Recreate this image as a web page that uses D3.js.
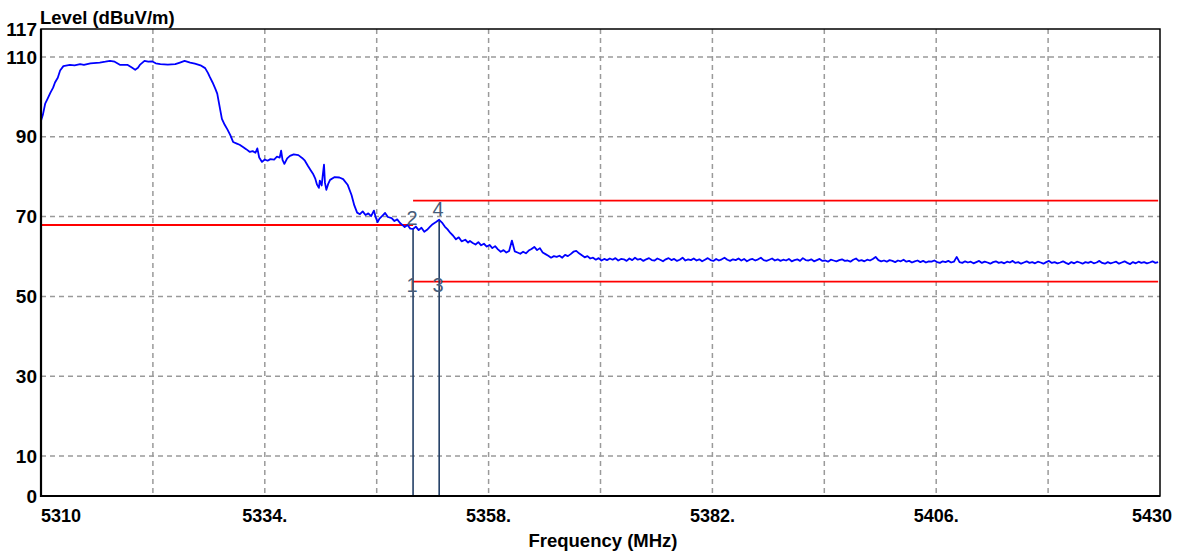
<!DOCTYPE html>
<html>
<head>
<meta charset="utf-8">
<script src="https://cdn.jsdelivr.net/npm/d3@7"></script>
<style>
  body { margin: 0; background: #fff; }
  text { font-family: Arial, "Liberation Sans", sans-serif; }
</style>
</head>
<body>
<svg class="chart" width="1177" height="555"></svg>
<script>
// axis ticks
const xTicks = [5310, 5322, 5334, 5346, 5358, 5370, 5382, 5394, 5406, 5418, 5430];
const xLabels = ["5310", "", "5334.", "", "5358.", "", "5382.", "", "5406.", "", "5430"];
const yTicks = [0, 10, 30, 50, 70, 90, 110, 117];
const yGrid = [10, 30, 50, 70, 90, 110];

// trace, first part (MHz / dBuV/m pairs)
const sweepFreq = [
  5310.0, 5310.2, 5310.45, 5310.7, 5311.0, 5311.3, 5311.5, 5311.8, 5312.05, 5312.4,
  5313.1, 5313.6, 5314.2, 5314.6, 5315.3, 5316.3, 5316.9, 5317.4, 5317.9, 5318.5,
  5319.3, 5319.7, 5320.1, 5320.4, 5320.6, 5321.1, 5321.5, 5321.9, 5322.3, 5322.8,
  5323.6, 5324.4, 5324.9, 5325.4, 5326.0, 5326.5, 5327.1, 5327.6, 5327.9, 5328.1,
  5328.4, 5328.7, 5328.9, 5329.2, 5329.4, 5329.7, 5330.0, 5330.3, 5330.6, 5331.0,
  5331.3, 5331.7, 5332.0, 5332.4, 5332.7, 5333.0, 5333.2, 5333.4, 5333.7, 5334.0,
  5334.3, 5334.6, 5335.0, 5335.3, 5335.6, 5335.75, 5335.9, 5336.1, 5336.4, 5336.7,
  5337.1, 5337.6, 5338.0, 5338.3, 5338.6, 5338.9, 5339.2, 5339.4, 5339.6, 5339.8,
  5339.9, 5340.1, 5340.2, 5340.35, 5340.45, 5340.6, 5340.8, 5341.0, 5341.5, 5342.0,
  5342.4, 5342.9, 5343.3, 5343.6, 5343.9, 5344.2, 5344.5, 5344.8, 5345.1, 5345.4,
  5345.7, 5345.9, 5346.1, 5346.3, 5346.6, 5346.9, 5347.2, 5347.6, 5347.9, 5348.2,
  5348.5, 5348.8, 5349.0, 5349.3, 5349.6, 5349.9, 5350.2, 5350.5, 5350.8, 5351.1,
  5351.4, 5351.7, 5352.0, 5352.4, 5352.7, 5353.0, 5353.3, 5353.6, 5353.9, 5354.2,
  5354.5, 5354.8, 5355.1, 5355.5, 5355.8, 5356.0
];
const sweepLevel = [
  94.0, 95.5, 98.3, 99.5, 101.0, 102.3, 103.6, 104.8, 106.6, 107.7,
  108.0, 107.9, 108.2, 108.0, 108.4, 108.6, 108.8, 109.0, 108.8, 108.0,
  108.0, 107.4, 106.8, 107.3, 108.0, 109.0, 108.8, 108.9, 108.4, 108.2,
  108.1, 108.2, 108.6, 109.0, 108.6, 108.3, 107.9, 107.2, 106.0, 105.0,
  103.6, 102.0, 100.8, 97.0, 94.5, 93.0, 91.8, 90.4, 88.7, 88.3,
  88.0, 87.4, 86.9, 86.2, 86.4, 86.0, 87.1, 84.8, 83.7, 84.3,
  84.0, 84.4, 84.3, 85.0, 84.8, 86.5, 84.2, 83.2, 84.6, 85.2,
  85.6, 85.4, 84.7, 84.0, 82.8, 81.7, 80.6, 79.6, 78.0, 77.2,
  79.0, 77.8, 80.0, 83.0, 78.5, 76.7, 78.2, 79.2, 79.9, 79.8,
  79.4, 77.9, 75.4, 72.8, 71.0, 70.6, 71.3, 70.4, 70.8, 70.1,
  71.5, 69.8, 68.6, 69.5, 70.2, 70.9, 69.9, 69.6, 68.9, 69.3,
  68.4, 67.8, 67.4, 67.9, 67.0, 66.9, 67.5, 66.6, 67.2, 66.2,
  66.7, 67.4, 68.1, 68.7, 69.2, 68.5, 67.5, 66.8, 65.9, 65.2,
  64.3, 64.8, 63.8, 64.2, 63.5, 63.9
];

// trace, flat part: one reading every 0.3 MHz from 5356.3 MHz
const tailStart = 5356.3;
const tailStep = 0.3;
const tailLevel = [
  63.4, 63.0, 63.6, 62.8, 63.2, 62.5, 62.9, 62.1, 62.6, 61.8,
  61.2, 61.6, 61.0, 61.4, 64.0, 61.3, 61.0, 60.7, 61.2, 60.8,
  61.5, 61.9, 62.4, 61.6, 62.1, 61.0, 60.6, 60.2, 59.7, 60.1,
  59.9, 60.2, 59.7, 60.4, 60.1, 60.6, 61.2, 61.4, 60.8, 60.3,
  59.8, 60.1, 59.5, 59.7, 59.2, 59.6, 59.0, 59.4, 59.1, 59.5,
  59.2, 59.6, 59.0, 59.4, 59.3, 58.9, 59.5, 59.1, 59.7, 59.2,
  59.4, 58.9, 59.3, 59.6, 59.1, 59.0, 59.5, 59.2, 58.8, 59.3,
  59.6, 59.1, 59.4, 58.9, 59.2, 59.7, 59.0, 59.3, 59.1, 59.5,
  59.0, 59.3, 58.8, 59.2, 59.6, 59.1, 58.9, 59.4, 59.0, 59.3,
  59.7, 59.2, 58.9, 59.3, 59.1, 59.5, 59.0, 59.4, 58.8, 59.2,
  59.4, 59.0, 59.3, 59.7, 59.1, 58.9, 59.2, 59.5, 59.0, 59.3,
  58.9, 59.2, 59.0, 59.4, 58.8, 59.1, 59.3, 58.9, 59.6, 59.1,
  59.0, 59.3, 58.8, 59.1, 59.4, 58.9, 59.0, 58.7, 59.2, 59.0,
  58.8, 59.1, 59.3, 58.9, 59.0, 58.7, 59.2, 59.5, 58.9, 59.1,
  58.8, 59.2, 59.0, 59.4, 59.9, 59.1, 58.8, 59.0, 58.7, 59.1,
  58.9, 58.6, 59.0, 58.8, 59.2, 58.7, 58.9, 58.5, 58.8, 59.0,
  58.6, 58.9, 58.5, 58.8, 58.7, 59.0, 58.6, 58.4, 58.8, 58.6,
  58.9, 58.5, 58.7, 59.9, 58.6, 58.4, 58.8, 58.5, 58.7, 58.3,
  58.6, 58.9, 58.4, 58.7, 58.5, 58.2, 58.6, 58.8, 58.4, 58.6,
  58.3, 58.7, 58.5, 58.9, 58.4, 58.6, 58.2, 58.5, 58.8, 58.4,
  58.6, 58.3, 58.7, 58.5, 58.2, 58.6, 58.9, 58.4, 58.6, 58.3,
  58.5, 58.8, 58.4, 58.1, 58.6, 58.3, 58.7, 58.5, 58.2, 58.6,
  58.4, 58.7, 58.3, 58.5, 58.9, 58.4, 58.2, 58.6, 58.3, 58.5,
  58.7, 58.2, 58.5, 58.8, 58.4, 58.1, 58.6, 58.3, 58.7, 58.4,
  58.6, 58.3, 58.5, 58.8, 58.4, 58.6
];

// limit lines (red)
const limitLevel = [67.9, 74.0, 53.7];
const limitFrom = [5310, 5349.9, 5349.9];
const limitTo = [5349.9, 5429.8, 5429.8];

// markers
const markerIds = ["1", "2", "3", "4"];
const markerFreq = [5349.9, 5349.9, 5352.7, 5352.7];
const markerLevel = [53.7, 66.9, 53.7, 69.2];
const onTrace = [false, true, false, true];

const margin = { top: 29, right: 17, bottom: 59, left: 41 };
const width = 1177 - margin.left - margin.right;
const height = 555 - margin.top - margin.bottom;

const trace = sweepFreq
  .map((f, i) => ({ f: f, v: sweepLevel[i] }))
  .concat(tailLevel.map((v, i) => ({ f: tailStart + i * tailStep, v: v })));

const svg = d3.select(".chart");
const g = svg
  .append("g")
  .attr("transform", `translate(${margin.left},${margin.top})`);

const x = d3.scaleLinear().domain([5310, 5430]).range([0, width]);
const y = d3.scaleLinear().domain([0, 117]).range([height, 0]);

// dashed grid
g.selectAll(".vgrid")
  .data(xTicks.slice(1, -1))
  .join("line")
  .attr("x1", (d) => x(d))
  .attr("x2", (d) => x(d))
  .attr("y1", 0)
  .attr("y2", height)
  .attr("stroke", "#9a9a9a")
  .attr("stroke-width", 1.5)
  .attr("stroke-dasharray", "5,4");

g.selectAll(".hgrid")
  .data(yGrid)
  .join("line")
  .attr("x1", 0)
  .attr("x2", width)
  .attr("y1", (d) => y(d))
  .attr("y2", (d) => y(d))
  .attr("stroke", "#9a9a9a")
  .attr("stroke-width", 1.5)
  .attr("stroke-dasharray", "5,4");

// limit lines
g.selectAll(".limit")
  .data(limitLevel)
  .join("line")
  .attr("x1", (d, i) => x(limitFrom[i]))
  .attr("x2", (d, i) => x(limitTo[i]))
  .attr("y1", (d) => y(d))
  .attr("y2", (d) => y(d))
  .attr("stroke", "#ff0000")
  .attr("stroke-width", 1.8);

// marker lines, from the trace marker down to the axis
const traceMarkers = markerFreq.filter((d, i) => onTrace[i]);
const traceMarkerLevel = markerLevel.filter((d, i) => onTrace[i]);
g.selectAll(".mline")
  .data(traceMarkers)
  .join("line")
  .attr("x1", (d) => x(d))
  .attr("x2", (d) => x(d))
  .attr("y1", (d, i) => y(traceMarkerLevel[i]))
  .attr("y2", height)
  .attr("stroke", "#233f66")
  .attr("stroke-width", 1.6);

// the measured trace
g.append("path")
  .datum(trace)
  .attr("fill", "none")
  .attr("stroke", "#0000ff")
  .attr("stroke-width", 1.8)
  .attr("stroke-linejoin", "round")
  .attr(
    "d",
    d3
      .line()
      .x((d) => x(d.f))
      .y((d) => y(d.v))
  );

// marker numbers
g.selectAll(".mlabel")
  .data(markerIds)
  .join("text")
  .attr("x", (d, i) => x(markerFreq[i]) - 1)
  .attr("y", (d, i) => (onTrace[i] ? y(markerLevel[i]) - 4 : y(markerLevel[i]) + 10))
  .attr("text-anchor", "middle")
  .attr("font-size", 20)
  .attr("fill", "#465c7a")
  .text((d) => d);

// frame
g.append("rect")
  .attr("width", width)
  .attr("height", height)
  .attr("fill", "none")
  .attr("stroke", "#000")
  .attr("stroke-width", 1.5);
g.append("path")
  .attr("d", `M0,0V${height}H${width}`)
  .attr("fill", "none")
  .attr("stroke", "#000")
  .attr("stroke-width", 2.2);

// tick labels
g.selectAll(".ylab")
  .data(yTicks)
  .join("text")
  .attr("x", -4)
  .attr("y", (d) => y(d))
  .attr("dy", "0.35em")
  .attr("text-anchor", "end")
  .attr("font-size", 19)
  .attr("font-weight", "bold")
  .text((d) => d);

g.selectAll(".xlab")
  .data(xTicks)
  .join("text")
  .attr("x", (d, i) => x(d) + (i === xTicks.length - 1 ? 12 : 0))
  .attr("y", height + 26)
  .attr("text-anchor", (d, i) =>
    i === 0 ? "start" : i === xTicks.length - 1 ? "end" : "middle"
  )
  .attr("font-size", 18)
  .attr("font-weight", "bold")
  .text((d, i) => xLabels[i]);

// axis titles
svg
  .append("text")
  .attr("x", 40)
  .attr("y", 24)
  .attr("font-size", 18.5)
  .attr("font-weight", "bold")
  .text("Level (dBuV/m)");

svg
  .append("text")
  .attr("x", 603)
  .attr("y", 547)
  .attr("text-anchor", "middle")
  .attr("font-size", 18.5)
  .attr("font-weight", "bold")
  .text("Frequency (MHz)");
</script>
</body>
</html>
